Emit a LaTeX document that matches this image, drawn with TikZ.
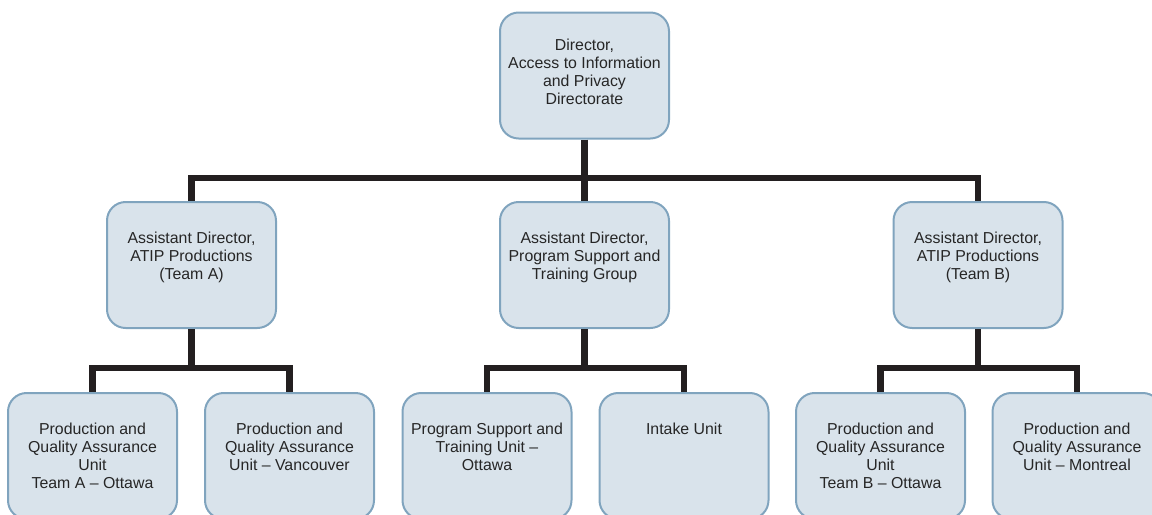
\documentclass[tikz,border=0pt]{standalone}
\usepackage{fontspec}
\setmainfont{Liberation Sans}
\definecolor{boxfill}{RGB}{217,227,235}
\definecolor{boxline}{RGB}{128,164,190}
\definecolor{connline}{RGB}{35,31,32}
\newcommand{\boxtxt}[2][31pt]{\parbox[c][94.5pt][t]{126pt}{\centering\fontsize{11.9pt}{13.6pt}\selectfont\rule{0pt}{#1}#2\par}}
\begin{document}
\begin{tikzpicture}[x=0.75pt,y=-0.75pt,
  orgbox/.style={draw=boxline, line width=1.5pt, fill=boxfill, rounded corners=14pt,
    inner sep=0pt, minimum width=126.75pt, minimum height=94.5pt, text=black!85},
  conn/.style={draw=connline, line width=4.6pt, line join=miter}]
\useasboundingbox (0,0) rectangle (1152,514);
\begin{scope}
\clip (0,0) rectangle (1152,514);
\coordinate (j0) at (584.5,178);
\coordinate (jA) at (191.5,368);
\coordinate (jB) at (584.5,368);
\coordinate (jC) at (978,368);
\node[orgbox] (top) at (584.5,75.5) {\boxtxt[28.5pt]{Director,\\Access to Information\\and Privacy\\Directorate}};
\node[orgbox] (a1) at (191.5,265) {\boxtxt{Assistant Director,\\ATIP Productions\\(Team A)}};
\node[orgbox] (a2) at (584.5,265) {\boxtxt{Assistant Director,\\Program Support and\\Training Group}};
\node[orgbox] (a3) at (978,265) {\boxtxt{Assistant Director,\\ATIP Productions\\(Team B)}};
\node[orgbox] (b1) at (92.5,456) {\boxtxt{Production and\\Quality Assurance\\Unit\\Team A -- Ottawa}};
\node[orgbox] (b2) at (289.5,456) {\boxtxt{Production and\\Quality Assurance\\Unit -- Vancouver}};
\node[orgbox] (b3) at (487,456) {\boxtxt{Program Support and\\Training Unit --\\Ottawa}};
\node[orgbox] (b4) at (684,456) {\boxtxt{Intake Unit}};
\node[orgbox] (b5) at (880.5,456) {\boxtxt{Production and\\Quality Assurance\\Unit\\Team B -- Ottawa}};
\node[orgbox] (b6) at (1077,456) {\boxtxt{Production and\\Quality Assurance\\Unit -- Montreal}};
\draw[conn] (top.south) -- (j0);
\draw[conn] (a1.north) |- (j0) -| (a3.north);
\draw[conn] (j0) -- (a2.north);
\draw[conn] (a1.south) -- (jA);
\draw[conn] (b1.north) |- (jA) -| (b2.north);
\draw[conn] (a2.south) -- (jB);
\draw[conn] (b3.north) |- (jB) -| (b4.north);
\draw[conn] (a3.south) -- (jC);
\draw[conn] (b5.north) |- (jC) -| (b6.north);
\end{scope}
\end{tikzpicture}
\end{document}
